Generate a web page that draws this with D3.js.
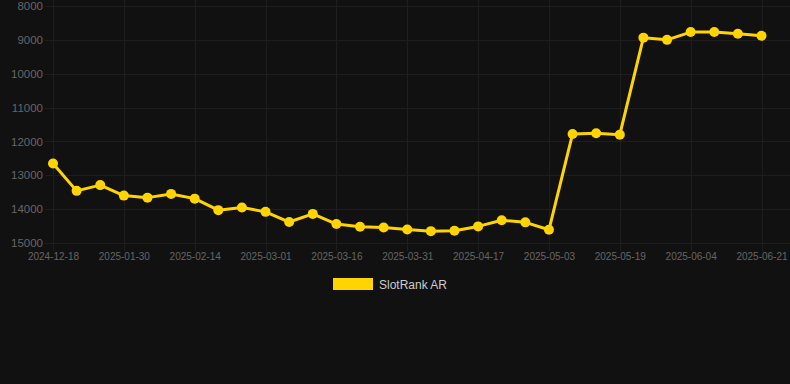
<!DOCTYPE html>
<html>
<head>
<meta charset="utf-8">
<script src="https://cdn.jsdelivr.net/npm/d3@7"></script>
<style>
    body { margin: 0; background: #111111; }
    svg { display: block; font-family: "Liberation Sans", Arial, sans-serif; }
</style>
</head>
<body>
<script>

// Dates on the category axis (every third one is labelled)
var dates = [
    "2024-12-18", "2025-01-02", "2025-01-16", "2025-01-30", "2025-02-04",
    "2025-02-09", "2025-02-14", "2025-02-19", "2025-02-24", "2025-03-01",
    "2025-03-06", "2025-03-11", "2025-03-16", "2025-03-21", "2025-03-26",
    "2025-03-31", "2025-04-05", "2025-04-11", "2025-04-17", "2025-04-22",
    "2025-04-28", "2025-05-03", "2025-05-08", "2025-05-14", "2025-05-19",
    "2025-05-24", "2025-05-30", "2025-06-04", "2025-06-09", "2025-06-15",
    "2025-06-21"
];

// Rank values of the series
var slotRank = [
    12650, 13460, 13290, 13600, 13660, 13550, 13690, 14030, 13950, 14080,
    14380, 14140, 14440, 14520, 14540, 14600, 14650, 14640, 14510, 14330,
    14390, 14610, 11780, 11760, 11800, 8935, 9000, 8770, 8770, 8820,
    8880
];

var yTicks = [8000, 9000, 10000, 11000, 12000, 13000, 14000, 15000];
var seriesName = "SlotRank AR";

window.onload = function() {

    var svgWidth = 790;
    var svgHeight = 384;
    var lineColor = "#ffd400";
    var gridColor = "#1e1e1e";
    var tickColor = "#666666";

    var svg = d3.select("body").append("svg")
        .attr("width", svgWidth)
        .attr("height", svgHeight);

    // Category scale, first and last point on the edges
    var xScale = d3.scalePoint()
        .domain(dates)
        .range([53, 761.5]);

    // Rank axis is reversed: small numbers on top
    var yScale = d3.scaleLinear()
        .domain([8000, 15000])
        .range([6, 243]);

    var labelled = dates.filter(function(d, i) { return i % 3 == 0; });

    // Horizontal gridlines
    svg.append("g")
        .selectAll("line")
        .data(yTicks)
        .enter()
        .append("line")
        .attr("x1", 45)
        .attr("x2", svgWidth)
        .attr("y1", function(d) { return Math.round(yScale(d)) + 0.5; })
        .attr("y2", function(d) { return Math.round(yScale(d)) + 0.5; })
        .attr("stroke", gridColor);

    // Vertical gridlines at labelled dates
    svg.append("g")
        .selectAll("line")
        .data(labelled)
        .enter()
        .append("line")
        .attr("x1", function(d) { return Math.round(xScale(d)) + 0.5; })
        .attr("x2", function(d) { return Math.round(xScale(d)) + 0.5; })
        .attr("y1", 0)
        .attr("y2", 251)
        .attr("stroke", gridColor);

    // y tick labels
    var yAxis = svg.append("g")
        .attr("transform", "translate(43, 0)")
        .call(d3.axisLeft(yScale).tickValues(yTicks).tickSize(0).tickPadding(0).tickFormat(d3.format("d")));
    yAxis.select(".domain").remove();
    yAxis.selectAll("text")
        .attr("fill", tickColor)
        .style("font-size", "11.5px");

    // x tick labels
    var xAxis = svg.append("g")
        .attr("transform", "translate(0, 251)")
        .call(d3.axisBottom(xScale).tickValues(labelled).tickSize(0).tickPadding(2));
    xAxis.select(".domain").remove();
    xAxis.selectAll("text")
        .attr("fill", tickColor)
        .style("font-size", "10px");

    // Line
    var line = d3.line()
        .x(function(d, i) { return xScale(dates[i]); })
        .y(function(d) { return yScale(d); });

    svg.append("path")
        .datum(slotRank)
        .attr("fill", "none")
        .attr("stroke", lineColor)
        .attr("stroke-width", 3)
        .attr("stroke-linejoin", "round")
        .attr("d", line);

    // Points
    svg.append("g")
        .selectAll("circle")
        .data(slotRank)
        .enter()
        .append("circle")
        .attr("cx", function(d, i) { return xScale(dates[i]); })
        .attr("cy", function(d) { return yScale(d); })
        .attr("r", 5)
        .attr("fill", lineColor);

    // Legend
    svg.append("rect")
        .attr("x", 333)
        .attr("y", 278)
        .attr("width", 40)
        .attr("height", 12)
        .attr("fill", lineColor);

    svg.append("text")
        .attr("x", 379)
        .attr("y", 289)
        .attr("fill", "#cccccc")
        .style("font-size", "12px")
        .text(seriesName);
};
</script>
</body>
</html>
